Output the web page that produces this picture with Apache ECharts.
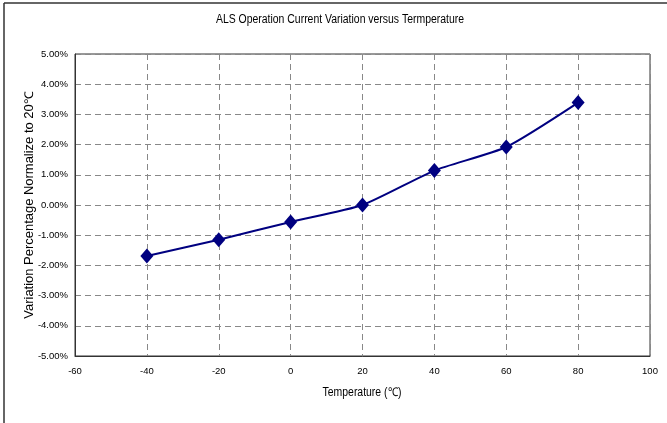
<!DOCTYPE html>
<html>
<head>
<meta charset="utf-8">
<script src="https://cdn.jsdelivr.net/npm/echarts@6/dist/echarts.min.js"></script>
<style>
html,body{margin:0;padding:0;background:#fff;}
#c{width:667px;height:423px;}
</style>
</head>
<body>
<div id="c"></div>
<script>
const temperatures = [-40, -20, 0, 20, 40, 60, 80];
const variationPct = [-1.69, -1.15, -0.56, 0.0, 1.14, 1.92, 3.39];
const titleText = 'ALS Operation Current Variation versus Termperature';
const xName = 'Temperature (\u2103)';
const yName = 'Variation Percentage Normalize to 20\u2103';

const FONT = "'Liberation Sans', Arial, sans-serif";
const chart = echarts.init(document.getElementById('c'), null, {renderer: 'canvas'});
chart.setOption({
  animation: false,
  backgroundColor: '#fff',
  graphic: [
    {type: 'line', shape: {x1: 4, y1: 3, x2: 4, y2: 423}, style: {stroke: '#333', lineWidth: 1.5}},
    {type: 'line', shape: {x1: 4, y1: 3, x2: 667, y2: 3}, style: {stroke: '#333', lineWidth: 1.5}},
    {type: 'text', x: 340, y: 20, scaleX: 0.87, originX: 0, originY: 0,
     style: {text: titleText, font: "12px " + FONT, fill: '#000', align: 'center', verticalAlign: 'middle'}},
    {type: 'text', x: 362, y: 393, scaleX: 0.87, originX: 0, originY: 0,
     style: {text: xName, font: "12px " + FONT, fill: '#000', align: 'center', verticalAlign: 'middle'}},
    {type: 'text', x: 30, y: 205, rotation: Math.PI / 2, scaleX: 1.08, originX: 0, originY: 0,
     style: {text: yName, font: "12px " + FONT, fill: '#000', align: 'center', verticalAlign: 'middle'}}
  ],
  grid: {left: 75, right: 17, top: 54, bottom: 67, show: true, borderColor: '#333', borderWidth: 1},
  xAxis: {
    type: 'value', min: -60, max: 100, interval: 20,
    axisLine: {show: true, onZero: false, lineStyle: {color: '#333'}},
    axisTick: {show: false},
    axisLabel: {fontFamily: FONT, fontSize: 9.5, color: '#000', margin: 10},
    splitLine: {show: true, lineStyle: {color: '#888', type: [6, 4], width: 1}}
  },
  yAxis: {
    type: 'value', min: -5, max: 5, interval: 1,
    axisLine: {show: true, onZero: false, lineStyle: {color: '#333'}},
    axisTick: {show: false},
    axisLabel: {fontFamily: FONT, fontSize: 9.5, color: '#000', margin: 7, formatter: v => v.toFixed(2) + '%'},
    splitLine: {show: true, lineStyle: {color: '#888', type: [6, 4], width: 1}}
  },
  series: [{
    type: 'line',
    data: temperatures.map((t, i) => [t, variationPct[i]]),
    smooth: 0.2,
    symbol: 'diamond',
    symbolSize: [13, 15],
    lineStyle: {color: '#000080', width: 2},
    itemStyle: {color: '#000080'}
  }]
});
</script>
</body>
</html>
